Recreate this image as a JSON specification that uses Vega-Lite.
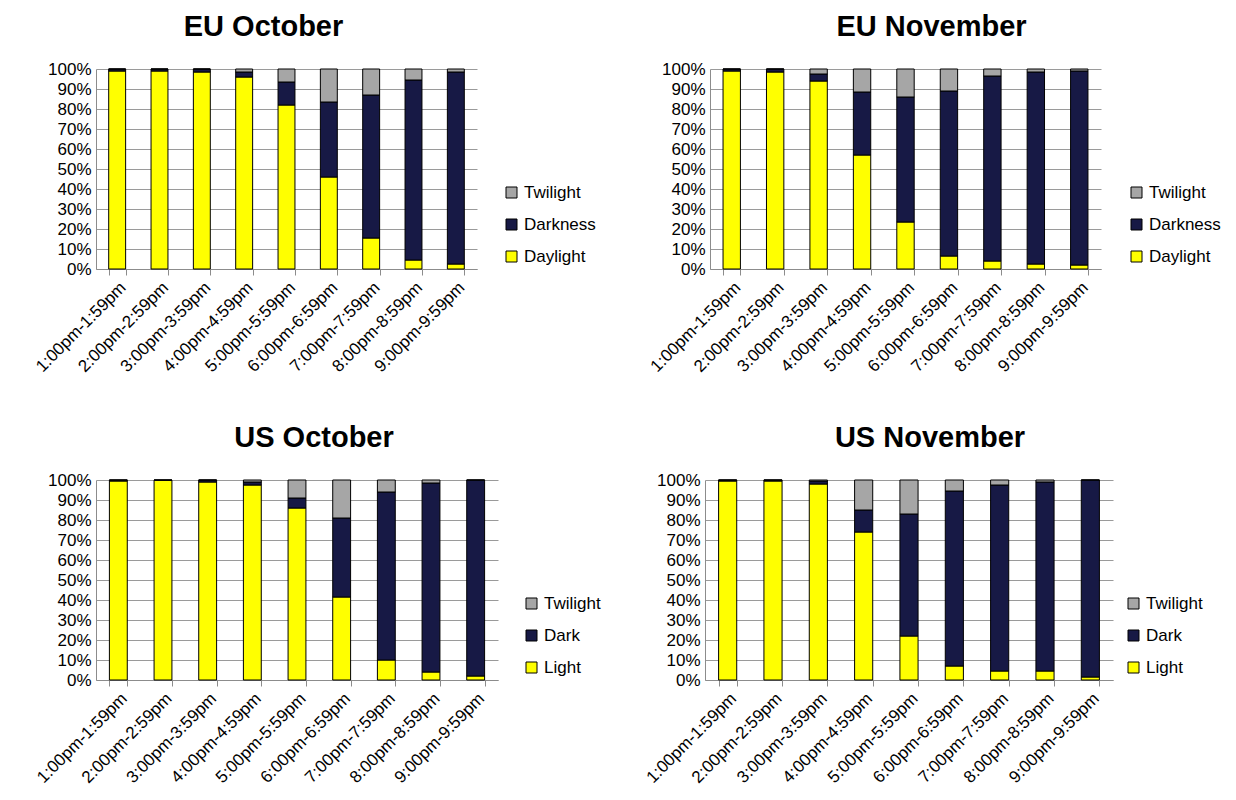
{
  "$schema": "https://vega.github.io/schema/vega-lite/v6.json",
  "padding": {"left": 28, "top": 13, "right": 0, "bottom": 0},
  "background": "white",
  "config": {
    "font": "Liberation Sans",
    "view": {"stroke": null},
    "title": {"font": "Liberation Sans", "fontSize": 29, "fontWeight": "bold", "color": "#000", "anchor": "middle", "frame": "group", "offset": 18},
    "axis": {"labelFont": "Liberation Sans", "labelFontSize": 17, "labelColor": "#000", "title": null},
    "legend": {"labelFont": "Liberation Sans", "labelFontSize": 17, "labelColor": "#000", "padding": 0}
  },
  "data": {"values": [
    {"panel": "EU October", "slot": "1:00pm-1:59pm", "cat": "Daylight", "k": 1, "v": 99},
    {"panel": "EU October", "slot": "1:00pm-1:59pm", "cat": "Darkness", "k": 2, "v": 1},
    {"panel": "EU October", "slot": "1:00pm-1:59pm", "cat": "Twilight", "k": 3, "v": 0},
    {"panel": "EU October", "slot": "2:00pm-2:59pm", "cat": "Daylight", "k": 1, "v": 99},
    {"panel": "EU October", "slot": "2:00pm-2:59pm", "cat": "Darkness", "k": 2, "v": 1},
    {"panel": "EU October", "slot": "2:00pm-2:59pm", "cat": "Twilight", "k": 3, "v": 0},
    {"panel": "EU October", "slot": "3:00pm-3:59pm", "cat": "Daylight", "k": 1, "v": 98.5},
    {"panel": "EU October", "slot": "3:00pm-3:59pm", "cat": "Darkness", "k": 2, "v": 1.5},
    {"panel": "EU October", "slot": "3:00pm-3:59pm", "cat": "Twilight", "k": 3, "v": 0},
    {"panel": "EU October", "slot": "4:00pm-4:59pm", "cat": "Daylight", "k": 1, "v": 96},
    {"panel": "EU October", "slot": "4:00pm-4:59pm", "cat": "Darkness", "k": 2, "v": 2.5},
    {"panel": "EU October", "slot": "4:00pm-4:59pm", "cat": "Twilight", "k": 3, "v": 1.5},
    {"panel": "EU October", "slot": "5:00pm-5:59pm", "cat": "Daylight", "k": 1, "v": 82},
    {"panel": "EU October", "slot": "5:00pm-5:59pm", "cat": "Darkness", "k": 2, "v": 11.5},
    {"panel": "EU October", "slot": "5:00pm-5:59pm", "cat": "Twilight", "k": 3, "v": 6.5},
    {"panel": "EU October", "slot": "6:00pm-6:59pm", "cat": "Daylight", "k": 1, "v": 46},
    {"panel": "EU October", "slot": "6:00pm-6:59pm", "cat": "Darkness", "k": 2, "v": 37.5},
    {"panel": "EU October", "slot": "6:00pm-6:59pm", "cat": "Twilight", "k": 3, "v": 16.5},
    {"panel": "EU October", "slot": "7:00pm-7:59pm", "cat": "Daylight", "k": 1, "v": 15.5},
    {"panel": "EU October", "slot": "7:00pm-7:59pm", "cat": "Darkness", "k": 2, "v": 71.5},
    {"panel": "EU October", "slot": "7:00pm-7:59pm", "cat": "Twilight", "k": 3, "v": 13},
    {"panel": "EU October", "slot": "8:00pm-8:59pm", "cat": "Daylight", "k": 1, "v": 4.5},
    {"panel": "EU October", "slot": "8:00pm-8:59pm", "cat": "Darkness", "k": 2, "v": 90},
    {"panel": "EU October", "slot": "8:00pm-8:59pm", "cat": "Twilight", "k": 3, "v": 5.5},
    {"panel": "EU October", "slot": "9:00pm-9:59pm", "cat": "Daylight", "k": 1, "v": 2.5},
    {"panel": "EU October", "slot": "9:00pm-9:59pm", "cat": "Darkness", "k": 2, "v": 96},
    {"panel": "EU October", "slot": "9:00pm-9:59pm", "cat": "Twilight", "k": 3, "v": 1.5},

    {"panel": "EU November", "slot": "1:00pm-1:59pm", "cat": "Daylight", "k": 1, "v": 99},
    {"panel": "EU November", "slot": "1:00pm-1:59pm", "cat": "Darkness", "k": 2, "v": 1},
    {"panel": "EU November", "slot": "1:00pm-1:59pm", "cat": "Twilight", "k": 3, "v": 0},
    {"panel": "EU November", "slot": "2:00pm-2:59pm", "cat": "Daylight", "k": 1, "v": 98.5},
    {"panel": "EU November", "slot": "2:00pm-2:59pm", "cat": "Darkness", "k": 2, "v": 1.5},
    {"panel": "EU November", "slot": "2:00pm-2:59pm", "cat": "Twilight", "k": 3, "v": 0},
    {"panel": "EU November", "slot": "3:00pm-3:59pm", "cat": "Daylight", "k": 1, "v": 94},
    {"panel": "EU November", "slot": "3:00pm-3:59pm", "cat": "Darkness", "k": 2, "v": 3.5},
    {"panel": "EU November", "slot": "3:00pm-3:59pm", "cat": "Twilight", "k": 3, "v": 2.5},
    {"panel": "EU November", "slot": "4:00pm-4:59pm", "cat": "Daylight", "k": 1, "v": 57},
    {"panel": "EU November", "slot": "4:00pm-4:59pm", "cat": "Darkness", "k": 2, "v": 31.5},
    {"panel": "EU November", "slot": "4:00pm-4:59pm", "cat": "Twilight", "k": 3, "v": 11.5},
    {"panel": "EU November", "slot": "5:00pm-5:59pm", "cat": "Daylight", "k": 1, "v": 23.5},
    {"panel": "EU November", "slot": "5:00pm-5:59pm", "cat": "Darkness", "k": 2, "v": 62.5},
    {"panel": "EU November", "slot": "5:00pm-5:59pm", "cat": "Twilight", "k": 3, "v": 14},
    {"panel": "EU November", "slot": "6:00pm-6:59pm", "cat": "Daylight", "k": 1, "v": 6.5},
    {"panel": "EU November", "slot": "6:00pm-6:59pm", "cat": "Darkness", "k": 2, "v": 82.5},
    {"panel": "EU November", "slot": "6:00pm-6:59pm", "cat": "Twilight", "k": 3, "v": 11},
    {"panel": "EU November", "slot": "7:00pm-7:59pm", "cat": "Daylight", "k": 1, "v": 4},
    {"panel": "EU November", "slot": "7:00pm-7:59pm", "cat": "Darkness", "k": 2, "v": 92.5},
    {"panel": "EU November", "slot": "7:00pm-7:59pm", "cat": "Twilight", "k": 3, "v": 3.5},
    {"panel": "EU November", "slot": "8:00pm-8:59pm", "cat": "Daylight", "k": 1, "v": 2.5},
    {"panel": "EU November", "slot": "8:00pm-8:59pm", "cat": "Darkness", "k": 2, "v": 96},
    {"panel": "EU November", "slot": "8:00pm-8:59pm", "cat": "Twilight", "k": 3, "v": 1.5},
    {"panel": "EU November", "slot": "9:00pm-9:59pm", "cat": "Daylight", "k": 1, "v": 2},
    {"panel": "EU November", "slot": "9:00pm-9:59pm", "cat": "Darkness", "k": 2, "v": 97},
    {"panel": "EU November", "slot": "9:00pm-9:59pm", "cat": "Twilight", "k": 3, "v": 1},

    {"panel": "US October", "slot": "1:00pm-1:59pm", "cat": "Light", "k": 1, "v": 99.5},
    {"panel": "US October", "slot": "1:00pm-1:59pm", "cat": "Dark", "k": 2, "v": 0.5},
    {"panel": "US October", "slot": "1:00pm-1:59pm", "cat": "Twilight", "k": 3, "v": 0},
    {"panel": "US October", "slot": "2:00pm-2:59pm", "cat": "Light", "k": 1, "v": 99.8},
    {"panel": "US October", "slot": "2:00pm-2:59pm", "cat": "Dark", "k": 2, "v": 0.2},
    {"panel": "US October", "slot": "2:00pm-2:59pm", "cat": "Twilight", "k": 3, "v": 0},
    {"panel": "US October", "slot": "3:00pm-3:59pm", "cat": "Light", "k": 1, "v": 99},
    {"panel": "US October", "slot": "3:00pm-3:59pm", "cat": "Dark", "k": 2, "v": 1},
    {"panel": "US October", "slot": "3:00pm-3:59pm", "cat": "Twilight", "k": 3, "v": 0},
    {"panel": "US October", "slot": "4:00pm-4:59pm", "cat": "Light", "k": 1, "v": 97.5},
    {"panel": "US October", "slot": "4:00pm-4:59pm", "cat": "Dark", "k": 2, "v": 1.5},
    {"panel": "US October", "slot": "4:00pm-4:59pm", "cat": "Twilight", "k": 3, "v": 1},
    {"panel": "US October", "slot": "5:00pm-5:59pm", "cat": "Light", "k": 1, "v": 86},
    {"panel": "US October", "slot": "5:00pm-5:59pm", "cat": "Dark", "k": 2, "v": 5},
    {"panel": "US October", "slot": "5:00pm-5:59pm", "cat": "Twilight", "k": 3, "v": 9},
    {"panel": "US October", "slot": "6:00pm-6:59pm", "cat": "Light", "k": 1, "v": 41.5},
    {"panel": "US October", "slot": "6:00pm-6:59pm", "cat": "Dark", "k": 2, "v": 39.5},
    {"panel": "US October", "slot": "6:00pm-6:59pm", "cat": "Twilight", "k": 3, "v": 19},
    {"panel": "US October", "slot": "7:00pm-7:59pm", "cat": "Light", "k": 1, "v": 10},
    {"panel": "US October", "slot": "7:00pm-7:59pm", "cat": "Dark", "k": 2, "v": 84},
    {"panel": "US October", "slot": "7:00pm-7:59pm", "cat": "Twilight", "k": 3, "v": 6},
    {"panel": "US October", "slot": "8:00pm-8:59pm", "cat": "Light", "k": 1, "v": 4},
    {"panel": "US October", "slot": "8:00pm-8:59pm", "cat": "Dark", "k": 2, "v": 94.5},
    {"panel": "US October", "slot": "8:00pm-8:59pm", "cat": "Twilight", "k": 3, "v": 1.5},
    {"panel": "US October", "slot": "9:00pm-9:59pm", "cat": "Light", "k": 1, "v": 2},
    {"panel": "US October", "slot": "9:00pm-9:59pm", "cat": "Dark", "k": 2, "v": 98},
    {"panel": "US October", "slot": "9:00pm-9:59pm", "cat": "Twilight", "k": 3, "v": 0},

    {"panel": "US November", "slot": "1:00pm-1:59pm", "cat": "Light", "k": 1, "v": 99.5},
    {"panel": "US November", "slot": "1:00pm-1:59pm", "cat": "Dark", "k": 2, "v": 0.5},
    {"panel": "US November", "slot": "1:00pm-1:59pm", "cat": "Twilight", "k": 3, "v": 0},
    {"panel": "US November", "slot": "2:00pm-2:59pm", "cat": "Light", "k": 1, "v": 99.5},
    {"panel": "US November", "slot": "2:00pm-2:59pm", "cat": "Dark", "k": 2, "v": 0.5},
    {"panel": "US November", "slot": "2:00pm-2:59pm", "cat": "Twilight", "k": 3, "v": 0},
    {"panel": "US November", "slot": "3:00pm-3:59pm", "cat": "Light", "k": 1, "v": 98},
    {"panel": "US November", "slot": "3:00pm-3:59pm", "cat": "Dark", "k": 2, "v": 1.5},
    {"panel": "US November", "slot": "3:00pm-3:59pm", "cat": "Twilight", "k": 3, "v": 0.5},
    {"panel": "US November", "slot": "4:00pm-4:59pm", "cat": "Light", "k": 1, "v": 74},
    {"panel": "US November", "slot": "4:00pm-4:59pm", "cat": "Dark", "k": 2, "v": 11},
    {"panel": "US November", "slot": "4:00pm-4:59pm", "cat": "Twilight", "k": 3, "v": 15},
    {"panel": "US November", "slot": "5:00pm-5:59pm", "cat": "Light", "k": 1, "v": 22},
    {"panel": "US November", "slot": "5:00pm-5:59pm", "cat": "Dark", "k": 2, "v": 61},
    {"panel": "US November", "slot": "5:00pm-5:59pm", "cat": "Twilight", "k": 3, "v": 17},
    {"panel": "US November", "slot": "6:00pm-6:59pm", "cat": "Light", "k": 1, "v": 7},
    {"panel": "US November", "slot": "6:00pm-6:59pm", "cat": "Dark", "k": 2, "v": 87.5},
    {"panel": "US November", "slot": "6:00pm-6:59pm", "cat": "Twilight", "k": 3, "v": 5.5},
    {"panel": "US November", "slot": "7:00pm-7:59pm", "cat": "Light", "k": 1, "v": 4.5},
    {"panel": "US November", "slot": "7:00pm-7:59pm", "cat": "Dark", "k": 2, "v": 93},
    {"panel": "US November", "slot": "7:00pm-7:59pm", "cat": "Twilight", "k": 3, "v": 2.5},
    {"panel": "US November", "slot": "8:00pm-8:59pm", "cat": "Light", "k": 1, "v": 4.5},
    {"panel": "US November", "slot": "8:00pm-8:59pm", "cat": "Dark", "k": 2, "v": 94.5},
    {"panel": "US November", "slot": "8:00pm-8:59pm", "cat": "Twilight", "k": 3, "v": 1},
    {"panel": "US November", "slot": "9:00pm-9:59pm", "cat": "Light", "k": 1, "v": 1.5},
    {"panel": "US November", "slot": "9:00pm-9:59pm", "cat": "Dark", "k": 2, "v": 98.5},
    {"panel": "US November", "slot": "9:00pm-9:59pm", "cat": "Twilight", "k": 3, "v": 0}
  ]},
  "resolve": {"scale": {"color": "independent"}, "legend": {"color": "independent"}},
  "columns": 2,
  "align": "none",
  "spacing": {"row": 49, "column": 41},
  "concat": [
    {
      "width": 381, "height": 200,
      "title": {"text": "EU October", "dx": -23},
      "transform": [{"filter": "datum.panel === 'EU October'"}],
      "mark": {"type": "bar", "stroke": "#000", "strokeWidth": 1},
      "encoding": {
        "x": {"field": "slot", "type": "nominal", "sort": null, "scale": {"paddingInner": 0.6, "paddingOuter": 0.3},
              "axis": {"labelAngle": -45, "tickBand": "extent", "domainColor": "#8c8c8c", "tickColor": "#8c8c8c", "tickSize": 6, "labelPadding": 4}},
        "y": {"field": "v", "type": "quantitative", "stack": "normalize",
              "axis": {"format": ".0%", "values": [0, 0.1, 0.2, 0.3, 0.4, 0.5, 0.6, 0.7, 0.8, 0.9, 1], "grid": true, "gridColor": "#9a9a9a", "domainColor": "#8c8c8c", "ticks": false, "labelPadding": 5, "minExtent": 68, "maxExtent": 68}},
        "color": {"field": "cat", "type": "nominal",
                  "scale": {"domain": ["Twilight", "Darkness", "Daylight"], "range": ["#A6A6A6", "#171945", "#FFFF00"]},
                  "legend": {"title": null, "orient": "none", "legendX": 407, "legendY": 115, "symbolType": "square", "symbolSize": 121, "symbolStrokeColor": "#000", "symbolStrokeWidth": 1, "rowPadding": 14, "labelOffset": 4}},
        "order": {"field": "k", "type": "quantitative"}
      }
    },
    {
      "width": 391, "height": 200,
      "title": {"text": "EU November", "dx": 26},
      "transform": [{"filter": "datum.panel === 'EU November'"}],
      "mark": {"type": "bar", "stroke": "#000", "strokeWidth": 1},
      "encoding": {
        "x": {"field": "slot", "type": "nominal", "sort": null, "scale": {"paddingInner": 0.6, "paddingOuter": 0.3},
              "axis": {"labelAngle": -45, "tickBand": "extent", "domainColor": "#8c8c8c", "tickColor": "#8c8c8c", "tickSize": 6, "labelPadding": 4}},
        "y": {"field": "v", "type": "quantitative", "stack": "normalize",
              "axis": {"format": ".0%", "values": [0, 0.1, 0.2, 0.3, 0.4, 0.5, 0.6, 0.7, 0.8, 0.9, 1], "grid": true, "gridColor": "#9a9a9a", "domainColor": "#8c8c8c", "ticks": false, "labelPadding": 5, "minExtent": 68, "maxExtent": 68}},
        "color": {"field": "cat", "type": "nominal",
                  "scale": {"domain": ["Twilight", "Darkness", "Daylight"], "range": ["#A6A6A6", "#171945", "#FFFF00"]},
                  "legend": {"title": null, "orient": "none", "legendX": 418, "legendY": 115, "symbolType": "square", "symbolSize": 121, "symbolStrokeColor": "#000", "symbolStrokeWidth": 1, "rowPadding": 14, "labelOffset": 4}},
        "order": {"field": "k", "type": "quantitative"}
      }
    },
    {
      "width": 402, "height": 200,
      "title": {"text": "US October", "dx": 17},
      "transform": [{"filter": "datum.panel === 'US October'"}],
      "mark": {"type": "bar", "stroke": "#000", "strokeWidth": 1},
      "encoding": {
        "x": {"field": "slot", "type": "nominal", "sort": null, "scale": {"paddingInner": 0.6, "paddingOuter": 0.3},
              "axis": {"labelAngle": -45, "tickBand": "extent", "domainColor": "#8c8c8c", "tickColor": "#8c8c8c", "tickSize": 6, "labelPadding": 4}},
        "y": {"field": "v", "type": "quantitative", "stack": "normalize",
              "axis": {"format": ".0%", "values": [0, 0.1, 0.2, 0.3, 0.4, 0.5, 0.6, 0.7, 0.8, 0.9, 1], "grid": true, "gridColor": "#9a9a9a", "domainColor": "#8c8c8c", "ticks": false, "labelPadding": 5, "minExtent": 57, "maxExtent": 57}},
        "color": {"field": "cat", "type": "nominal",
                  "scale": {"domain": ["Twilight", "Dark", "Light"], "range": ["#A6A6A6", "#171945", "#FFFF00"]},
                  "legend": {"title": null, "orient": "none", "legendX": 427, "legendY": 115, "symbolType": "square", "symbolSize": 121, "symbolStrokeColor": "#000", "symbolStrokeWidth": 1, "rowPadding": 14, "labelOffset": 4}},
        "order": {"field": "k", "type": "quantitative"}
      }
    },
    {
      "width": 408, "height": 200,
      "title": {"text": "US November", "dx": 21},
      "transform": [{"filter": "datum.panel === 'US November'"}],
      "mark": {"type": "bar", "stroke": "#000", "strokeWidth": 1},
      "encoding": {
        "x": {"field": "slot", "type": "nominal", "sort": null, "scale": {"paddingInner": 0.6, "paddingOuter": 0.3},
              "axis": {"labelAngle": -45, "tickBand": "extent", "domainColor": "#8c8c8c", "tickColor": "#8c8c8c", "tickSize": 6, "labelPadding": 4}},
        "y": {"field": "v", "type": "quantitative", "stack": "normalize",
              "axis": {"format": ".0%", "values": [0, 0.1, 0.2, 0.3, 0.4, 0.5, 0.6, 0.7, 0.8, 0.9, 1], "grid": true, "gridColor": "#9a9a9a", "domainColor": "#8c8c8c", "ticks": false, "labelPadding": 5, "minExtent": 57, "maxExtent": 57}},
        "color": {"field": "cat", "type": "nominal",
                  "scale": {"domain": ["Twilight", "Dark", "Light"], "range": ["#A6A6A6", "#171945", "#FFFF00"]},
                  "legend": {"title": null, "orient": "none", "legendX": 420, "legendY": 115, "symbolType": "square", "symbolSize": 121, "symbolStrokeColor": "#000", "symbolStrokeWidth": 1, "rowPadding": 14, "labelOffset": 4}},
        "order": {"field": "k", "type": "quantitative"}
      }
    }
  ]
}
